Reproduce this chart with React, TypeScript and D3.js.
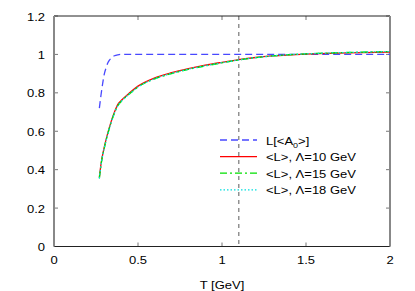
import React, { useEffect, useRef } from "react";
import * as d3 from "d3";

// Polyakov loop data
const tA0 = [0.27, 0.28, 0.29, 0.30, 0.31, 0.32, 0.33, 0.34, 0.35, 0.36, 0.38, 0.4, 0.6, 1.0, 1.5, 2.0];
const lA0 = [0.72, 0.79, 0.85, 0.9, 0.93, 0.955, 0.97, 0.98, 0.988, 0.993, 0.998, 1.0, 1.0, 1.0, 1.0, 1.0];

const tL = [0.27, 0.28, 0.30, 0.32, 0.34, 0.36, 0.38, 0.40, 0.45, 0.5, 0.6, 0.7, 0.8, 0.9, 1.0, 1.1, 1.2, 1.3, 1.5, 1.75, 2.0];
const l10 = [0.36, 0.43, 0.52, 0.59, 0.65, 0.70, 0.74, 0.76, 0.80, 0.835, 0.878, 0.905, 0.926, 0.944, 0.959, 0.973, 0.984, 0.992, 1.002, 1.008, 1.012];
const l15 = [0.355, 0.425, 0.515, 0.585, 0.645, 0.695, 0.733, 0.755, 0.795, 0.83, 0.873, 0.9, 0.922, 0.94, 0.956, 0.971, 0.983, 0.992, 1.003, 1.01, 1.015];
const l18 = [0.355, 0.425, 0.515, 0.585, 0.645, 0.695, 0.733, 0.755, 0.795, 0.83, 0.873, 0.901, 0.923, 0.941, 0.957, 0.971, 0.983, 0.992, 1.003, 1.01, 1.015];

const xTicks = [0, 0.5, 1, 1.5, 2];
const yTicks = [0, 0.2, 0.4, 0.6, 0.8, 1, 1.2];
const tMark = 1.1;

const series = [
  { name: "L[<A0>]", t: tA0, v: lA0, color: "#4848ff", dash: "7,4" },
  { name: "<L>, Λ=10 GeV", t: tL, v: l10, color: "#ff0000", dash: "" },
  { name: "<L>, Λ=15 GeV", t: tL, v: l15, color: "#00e000", dash: "7,3,2,3" },
  { name: "<L>, Λ=18 GeV", t: tL, v: l18, color: "#00e0e0", dash: "1.5,2" },
];

export default function App() {
  const ref = useRef<SVGSVGElement>(null);

  useEffect(() => {
    const svg = d3.select(ref.current);
    svg.selectAll("*").remove();

    const margin = { top: 16, right: 25, bottom: 44.5, left: 54 };
    const W = 415, H = 291;
    const w = W - margin.left - margin.right;
    const h = H - margin.top - margin.bottom;

    const x = d3.scaleLinear().domain([0, 2]).range([0, w]);
    const y = d3.scaleLinear().domain([0, 1.2]).range([h, 0]);

    const g = svg.append("g").attr("transform", `translate(${margin.left},${margin.top})`);
    const font = "'Liberation Sans', Arial, sans-serif";

    // text is a little wider than tall in the reference
    const label = (px: number, py: number, anchor: string) =>
      g.append("text")
        .attr("transform", `translate(${px},${py}) scale(1.13,1)`)
        .attr("text-anchor", anchor)
        .style("font-family", font)
        .style("font-size", "11.5px");

    // vertical marker
    g.append("line")
      .attr("x1", x(tMark)).attr("x2", x(tMark))
      .attr("y1", 0).attr("y2", h)
      .attr("stroke", "#777").attr("stroke-width", 1.2)
      .attr("stroke-dasharray", "4,4");

    // ticks (inward, mirrored)
    xTicks.forEach((t) => {
      g.append("line").attr("x1", x(t)).attr("x2", x(t)).attr("y1", h).attr("y2", h - 4).attr("stroke", "#777");
      g.append("line").attr("x1", x(t)).attr("x2", x(t)).attr("y1", 0).attr("y2", 4).attr("stroke", "#777");
      label(x(t), h + 17.5, "middle").text(d3.format("")(t));
    });
    yTicks.forEach((v) => {
      g.append("line").attr("x1", 0).attr("x2", 4).attr("y1", y(v)).attr("y2", y(v)).attr("stroke", "#777");
      g.append("line").attr("x1", w).attr("x2", w - 4).attr("y1", y(v)).attr("y2", y(v)).attr("stroke", "#777");
      label(-9, y(v) + 4.5, "end").text(d3.format("")(v));
    });

    // border
    g.append("line").attr("x1", 0).attr("x2", w).attr("y1", 0).attr("y2", 0).attr("stroke", "#222");
    g.append("line").attr("x1", 0).attr("x2", w).attr("y1", h).attr("y2", h).attr("stroke", "#222");
    g.append("line").attr("x1", 0).attr("x2", 0).attr("y1", 0).attr("y2", h).attr("stroke", "#888").attr("stroke-width", 2);
    g.append("line").attr("x1", w).attr("x2", w).attr("y1", 0).attr("y2", h).attr("stroke", "#888").attr("stroke-width", 2);

    // curves
    const line = d3.line<[number, number]>()
      .x((d) => x(d[0]))
      .y((d) => y(d[1]))
      .curve(d3.curveMonotoneX);

    series.forEach((s) => {
      g.append("path")
        .datum(s.t.map((t, i) => [t, s.v[i]] as [number, number]))
        .attr("d", line)
        .attr("fill", "none")
        .attr("stroke", s.color)
        .attr("stroke-width", 1.3)
        .attr("stroke-dasharray", s.dash || null);
    });

    // legend
    const lx0 = 220 - margin.left, lx1 = 257 - margin.left;
    series.forEach((s, i) => {
      const yy = 140 - margin.top + i * 16.6;
      g.append("line")
        .attr("x1", lx0).attr("x2", lx1).attr("y1", yy).attr("y2", yy)
        .attr("stroke", s.color).attr("stroke-width", 1.3)
        .attr("stroke-dasharray", s.dash || null);
      const txt = label(266 - margin.left, yy + 4.5, "start");
      if (i === 0) {
        txt.append("tspan").text("L[<A");
        txt.append("tspan").attr("dy", 3).style("font-size", "8px").text("0");
        txt.append("tspan").attr("dy", -3).text(">]");
      } else {
        txt.text(s.name);
      }
    });

    // axis title
    label(w / 2, h + 42.5, "middle").text("T [GeV]");
  }, []);

  return (
    <svg ref={ref} width={415} height={291} style={{ position: "absolute", left: 0, top: 0 }} />
  );
}
